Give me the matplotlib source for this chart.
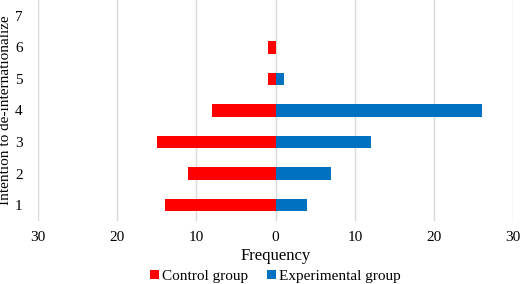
import matplotlib
matplotlib.use("Agg")
import matplotlib.pyplot as plt
import numpy as np

categories = [1, 2, 3, 4, 5, 6, 7]
control = [14, 11, 15, 8, 1, 1, 0]
experimental = [4, 7, 12, 26, 1, 0, 0]
xticks = [-30, -20, -10, 0, 10, 20, 30]
xtick_labels = ["30", "20", "10", "0", "10", "20", "30"]

plt.rcParams['font.family'] = ['Liberation Serif', 'DejaVu Serif']
fig = plt.figure(figsize=(5.2, 2.84), dpi=100)
ax = fig.add_axes([0.073, 0.222, 0.914, 0.778])

y = np.array(categories)
ax.barh(y, -np.array(control), height=0.4, color='#ff0000', label='Control group', zorder=3)
ax.barh(y, experimental, height=0.4, color='#0070c0', label='Experimental group', zorder=3)

ax.set_xlim(-30, 30)
ax.set_ylim(0.5, 7.5)
ax.set_xticks(xticks)
ax.set_xticklabels(xtick_labels, fontsize=11)
ax.set_yticks(categories)
ax.set_yticklabels([str(c) for c in categories], fontsize=11)
ax.tick_params(axis='x', length=0, pad=7)
ax.tick_params(axis='y', length=0, pad=11)
ax.grid(axis='x', color='#d9d9d9', linewidth=1, zorder=0)
for s in ax.spines.values():
    s.set_visible(False)
ax.set_xlabel('Frequency', fontsize=12, labelpad=3)
ax.set_ylabel('Intention to de-internationalize', fontsize=11, labelpad=2)
fig.legend(loc='lower center', bbox_to_anchor=(0.53, -0.045), ncol=2, frameon=False,
           fontsize=11, handlelength=0.6, handleheight=0.6, handletextpad=0.2, columnspacing=1.2)
fig.savefig('out.png', dpi=100)
